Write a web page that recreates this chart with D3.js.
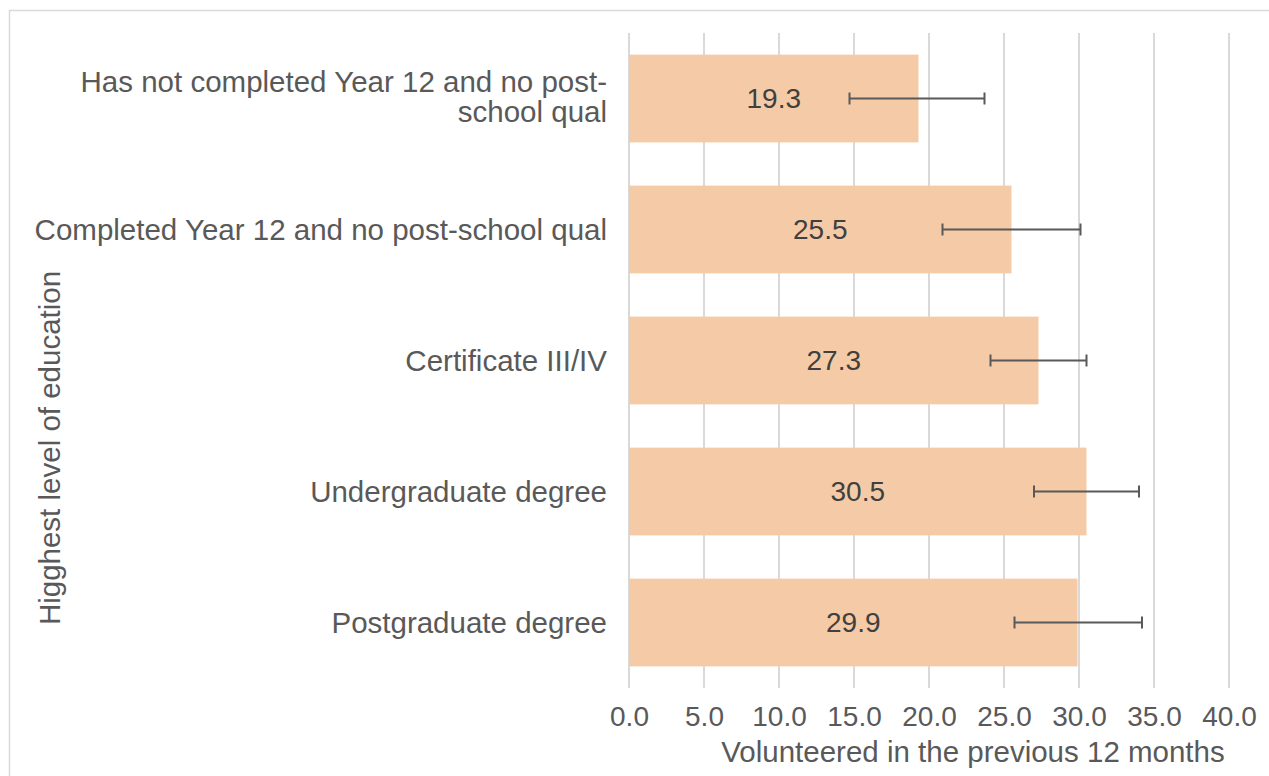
<!DOCTYPE html>
<html>
<head>
<meta charset="utf-8">
<script src="https://cdn.jsdelivr.net/npm/d3@7"></script>
<style>
    body { margin: 0; background: #fff; }
    svg text { font-family: "Liberation Sans", Arial, sans-serif; }
</style>
</head>
<body>
<div id="chart"></div>
<script>
// education levels, top to bottom
const categories = [
    "Has not completed Year 12 and no post-school qual",
    "Completed Year 12 and no post-school qual",
    "Certificate III/IV",
    "Undergraduate degree",
    "Postgraduate degree"
];
const categoryLines = [
    ["Has not completed Year 12 and no post-", "school qual"],
    ["Completed Year 12 and no post-school qual"],
    ["Certificate III/IV"],
    ["Undergraduate degree"],
    ["Postgraduate degree"]
];
const values = [19.3, 25.5, 27.3, 30.5, 29.9];
const errLow = [14.7, 20.9, 24.1, 27.0, 25.7];
const errHigh = [23.7, 30.1, 30.5, 34.0, 34.2];
const xTicks = [0, 5, 10, 15, 20, 25, 30, 35, 40];
const xTitle = "Volunteered in the previous 12 months";
const yTitle = "Higghest level of education";

const W = 1269, H = 776;
const margin = { left: 629, right: 40, top: 33, bottom: 88 };
const innerW = W - margin.left - margin.right;
const innerH = H - margin.top - margin.bottom;

const svg = d3.select("#chart").append("svg")
    .attr("width", W)
    .attr("height", H);

// outer chart frame
svg.append("rect")
    .attr("x", 9.5).attr("y", 10.5)
    .attr("width", W).attr("height", H)
    .attr("fill", "none")
    .attr("stroke", "#d9d9d9")
    .attr("stroke-width", 1.5);

const g = svg.append("g")
    .attr("transform", `translate(${margin.left}, ${margin.top})`);

const xScale = d3.scaleLinear().domain([0, 40]).range([0, innerW]);
const yScale = d3.scaleBand().domain(categories).range([0, innerH]).paddingInner(0.33).paddingOuter(0.165);

// vertical gridlines
g.append("g").selectAll("line").data(xTicks).join("line")
    .attr("x1", d => xScale(d)).attr("x2", d => xScale(d))
    .attr("y1", 0).attr("y2", innerH)
    .attr("stroke", "#d9d9d9")
    .attr("stroke-width", 2);

// bars
g.append("g").selectAll("rect").data(categories).join("rect")
    .attr("x", xScale(0))
    .attr("y", d => yScale(d))
    .attr("width", (d, i) => xScale(values[i]) - xScale(0))
    .attr("height", yScale.bandwidth())
    .attr("fill", "#f5cba7");

// data labels
g.append("g").selectAll("text").data(categories).join("text")
    .attr("x", (d, i) => xScale(values[i] / 2))
    .attr("y", d => yScale(d) + yScale.bandwidth() / 2)
    .attr("dy", "0.35em")
    .attr("text-anchor", "middle")
    .attr("font-size", 28)
    .attr("fill", "#404040")
    .text((d, i) => values[i].toFixed(1));

// error bars
const errG = g.append("g")
    .attr("stroke", "#595959")
    .attr("stroke-width", 2);
categories.forEach((c, i) => {
    const cy = yScale(c) + yScale.bandwidth() / 2;
    errG.append("line")
        .attr("x1", xScale(errLow[i])).attr("x2", xScale(errHigh[i]))
        .attr("y1", cy).attr("y2", cy);
    [errLow[i], errHigh[i]].forEach(v => {
        errG.append("line")
            .attr("x1", xScale(v)).attr("x2", xScale(v))
            .attr("y1", cy - 6).attr("y2", cy + 6);
    });
});

// x axis
const xAxis = d3.axisBottom(xScale)
    .tickValues(xTicks)
    .tickSize(0)
    .tickPadding(18)
    .tickFormat(d => d.toFixed(1));
const xAxisGroup = g.append("g")
    .attr("transform", `translate(0, ${innerH})`)
    .call(xAxis);
xAxisGroup.select(".domain").remove();
xAxisGroup.selectAll("text")
    .attr("font-size", 28)
    .attr("font-family", "Liberation Sans, Arial, sans-serif")
    .attr("fill", "#595959");

// y axis category labels
const yAxisGroup = g.append("g");
categories.forEach((c, i) => {
    const lines = categoryLines[i];
    const cy = yScale(c) + yScale.bandwidth() / 2;
    const t = yAxisGroup.append("text")
        .attr("x", -22)
        .attr("y", cy - (lines.length - 1) * 17)
        .attr("text-anchor", "end")
        .attr("font-size", 29.5)
        .attr("fill", "#595959");
    lines.forEach((l, j) => {
        t.append("tspan")
            .attr("x", -22)
            .attr("dy", j === 0 ? "0.35em" : 30)
            .text(l);
    });
});

// axis titles
svg.append("text")
    .attr("x", 973).attr("y", 752)
    .attr("dy", "0.35em")
    .attr("text-anchor", "middle")
    .attr("font-size", 29.5)
    .attr("fill", "#595959")
    .text(xTitle);

svg.append("text")
    .attr("transform", "translate(50, 448) rotate(-90)")
    .attr("dy", "0.35em")
    .attr("text-anchor", "middle")
    .attr("font-size", 29.5)
    .attr("fill", "#595959")
    .text(yTitle);
</script>
</body>
</html>
